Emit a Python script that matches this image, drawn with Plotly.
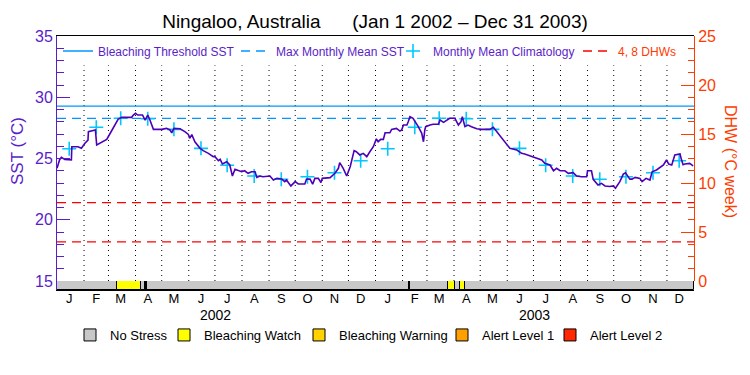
import pandas as pd
import plotly.graph_objects as go

# ---------------- data ----------------
period_start = "2002-01-01"
period_end = "2004-01-01"

# days since 2002-01-01 and SST (°C)
sst_day_offset = [0, 3, 5, 9, 16.5, 17, 24, 28, 32, 35.5, 36, 41.5, 44, 45.5, 51, 57, 61, 66.5, 70, 74,
                  85.5, 87.5, 90, 92.5, 98, 101, 104, 106.5, 110.5, 120, 125.5, 129.5, 131.5, 134, 141,
                  146.5, 150.5, 152, 154.5, 158, 164, 167.5, 173.5, 179, 181, 185, 187, 189.5, 194.5, 198,
                  201, 204, 207.5, 211.5, 215, 219, 223, 227, 229, 232.5, 236, 240, 244, 248, 252, 257.5,
                  261, 263, 268, 273, 276.5, 284, 286, 290, 293, 295.5, 299.5, 302.5, 304, 313, 318.5,
                  322.5, 324, 328, 332, 336, 340.5, 343, 347, 351, 355, 358.5, 362.5, 366, 368, 371, 374,
                  376, 381.5, 383.5, 389, 393, 395, 397, 401, 402.5, 404.5, 408, 412, 414, 418, 420, 421.5,
                  422.5, 427.5, 431, 437, 439, 443, 446.5, 450, 456, 460, 463, 464.5, 467.5, 471, 475, 481,
                  486.5, 496, 500, 504, 509.5, 515.5, 519, 527, 532.5, 536, 539, 544, 548, 555.5, 559, 565,
                  569, 572.5, 576.5, 582, 586, 591.5, 595.5, 601, 607, 608, 612.5, 614.5, 620, 624, 628,
                  633.5, 637.5, 640, 645, 649, 651.5, 656.5, 659, 662.5, 668, 670.5, 675, 679.5, 682, 687,
                  695, 698.5, 701, 704.5, 708, 714, 715.5, 717.5, 719.5, 725, 729]
sst_values = [24.2, 24.9, 25.1, 24.93, 24.88, 25.96, 25.96, 25.83, 26.24, 26.5, 27.19, 27.27, 27.33, 26.1,
              26.29, 26.56, 27.06, 27.8, 28.2, 28.36, 28.36, 28.55, 28.69, 28.55, 28.55, 28.14, 28.55,
              28.14, 27.38, 27.38, 27.46, 27.33, 27.1, 27.46, 27.43, 27.19, 26.97, 26.65, 26.95, 26.37,
              25.83, 25.64, 25.42, 25.15, 25.15, 24.82, 24.93, 24.55, 24.74, 24.47, 23.57, 24.12, 24.0,
              23.92, 24.0, 23.79, 23.92, 23.92, 23.46, 23.57, 23.51, 23.57, 23.57, 23.24, 23.38, 23.32,
              23.11, 23.24, 22.76, 23.11, 22.92, 22.92, 23.32, 23.32, 22.9, 23.38, 23.38, 23.03, 23.38,
              23.44, 23.79, 24.2, 24.66, 24.2, 23.57, 24.33, 25.64, 25.55, 25.29, 25.42, 25.15, 25.55,
              25.96, 26.6, 26.37, 26.56, 26.56, 27.1, 27.1, 27.38, 27.46, 27.24, 27.33, 27.73, 27.73,
              28.0, 28.41, 28.28, 27.87, 27.6, 27.06, 26.37, 27.33, 27.6, 27.73, 27.8, 27.8, 28.14, 27.95,
              28.09, 28.28, 28.28, 27.73, 28.0, 28.41, 27.6, 27.73, 27.6, 27.43, 27.38, 27.38, 27.55,
              27.19, 26.78, 26.24, 25.83, 25.69, 25.42, 25.37, 25.29, 25.2, 25.1, 24.88, 24.61, 24.47,
              24.0, 24.2, 24.0, 24.0, 23.79, 23.84, 23.57, 23.51, 23.51, 24.0, 24.0, 23.3, 22.84, 22.97,
              22.76, 22.71, 22.76, 22.57, 23.11, 23.73, 23.84, 23.32, 23.32, 23.46, 23.38, 23.11, 23.38,
              23.24, 23.92, 24.06, 24.47, 24.88, 24.55, 24.47, 25.29, 25.37, 24.93, 24.5, 24.55, 24.6,
              24.39]

clim_years = [2002, 2003]
clim_month_values = [25.80, 27.55, 28.28, 28.25, 27.38, 25.83, 24.45, 23.57, 23.30, 23.51, 23.84, 24.82]

mmm_sst = 28.28
bleaching_threshold_sst = 29.28
dhw_levels = [4, 8]

status_starts = ["2002-01-01", "2002-03-11", "2002-04-07", "2002-04-12", "2002-04-14", "2003-02-08",
                 "2003-02-10", "2003-03-25", "2003-04-02", "2003-04-08", "2003-04-13"]
status_ends = ["2002-03-11", "2002-04-07", "2002-04-12", "2002-04-14", "2003-02-08", "2003-02-10",
               "2003-03-25", "2003-04-02", "2003-04-08", "2003-04-13", "2004-01-01"]
status_levels = ["No Stress", "Bleaching Watch", "No Stress", "No Data", "No Stress", "No Data",
                 "No Stress", "Bleaching Watch", "No Stress", "Bleaching Watch", "No Stress"]
status_categories = ["No Stress", "Bleaching Watch", "Bleaching Warning", "Alert Level 1", "Alert Level 2"]

month_letters = ["J", "F", "M", "A", "M", "J", "J", "A", "S", "O", "N", "D"]
year_labels = ["2002", "2003"]

# ---------------- styles / layout ----------------
PURPLE = "#5a1ec8"
LINE_PURPLE = "#4c00b8"
ORANGE_RED = "#ff3c00"
BLUE = "#0096ff"
CYAN = "#00c8ff"
RED = "#ff0000"
FONT = "Liberation Sans"
status_colors = {"No Stress": "#c8c8c8", "Bleaching Watch": "#ffff00", "Bleaching Warning": "#ffd200",
                 "Alert Level 1": "#ffa000", "Alert Level 2": "#ff2800", "No Data": "#000000"}

W, H = 750, 375
ML, MR, MT, MB = 57, 56, 36, 85
PW, PH = W - ML - MR, H - MT - MB
BAR_FRAC = 9 / PH
TEXT_OFF = 40  # legend text offset from legend x (px)


def px_x(px):
    return (px - ML) / PW


def px_y(py):
    return (H - MB - py) / PH


# legend placement: text start pixel positions
top_legend_text_x = [98, 276, 433, 618]
bottom_legend_text_x = [110, 204, 339, 482, 590]

t0 = pd.Timestamp(period_start)
t1 = pd.Timestamp(period_end)
sst_dates = [t0 + pd.to_timedelta(d, unit="D") for d in sst_day_offset]

clim_dates, clim_vals = [], []
for yr in clim_years:
    for m, v in enumerate(clim_month_values, start=1):
        clim_dates.append(pd.Timestamp(year=yr, month=m, day=15))
        clim_vals.append(v)

fig = go.Figure()
top_names = ["legend", "legend7", "legend8", "legend9"]
bot_names = ["legend2", "legend3", "legend4", "legend5", "legend6"]

fig.add_trace(go.Scatter(x=[t0, t1], y=[bleaching_threshold_sst] * 2, mode="lines",
                         line=dict(color=BLUE, width=1.3), name="Bleaching Threshold SST",
                         legend=top_names[0]))
fig.add_trace(go.Scatter(x=[t0, t1], y=[mmm_sst] * 2, mode="lines",
                         line=dict(color=BLUE, width=1.3, dash="9px,6px"), name="Max Monthly Mean SST",
                         legend=top_names[1]))
fig.add_trace(go.Scatter(x=clim_dates, y=clim_vals, mode="markers",
                         marker=dict(symbol="cross-thin", size=10, line=dict(color=CYAN, width=1.6)),
                         name="Monthly Mean Climatology", legend=top_names[2]))
dx, dy = [], []
for lv in dhw_levels:
    dx += [t0, t1, None]
    dy += [lv, lv, None]
fig.add_trace(go.Scatter(x=dx, y=dy, yaxis="y2", mode="lines",
                         line=dict(color=RED, width=1.3, dash="9px,6px"),
                         name=f"<span style='color:{ORANGE_RED}'>4, 8 DHWs</span>", legend=top_names[3]))
fig.add_trace(go.Scatter(x=sst_dates, y=sst_values, mode="lines",
                         line=dict(color=LINE_PURPLE, width=1.6), showlegend=False, name="SST"))

# status bar
for i, cat in enumerate(status_categories + ["No Data"]):
    xs, ws = [], []
    for s, e, lv in zip(status_starts, status_ends, status_levels):
        if lv == cat:
            s_, e_ = pd.Timestamp(s), pd.Timestamp(e)
            xs.append(s_ + (e_ - s_) / 2)
            ws.append((e_ - s_).total_seconds() * 1000)
    if not xs:
        xs, ws, ys = [None], None, [None]
    else:
        ys = [1] * len(xs)
    fig.add_trace(go.Bar(x=xs, y=ys, width=ws, base=0, yaxis="y3",
                         marker=dict(color=status_colors[cat], line=dict(color="black", width=1)),
                         name=cat, legend=bot_names[i] if i < len(bot_names) else "legend2",
                         showlegend=(cat != "No Data")))

# month dotted lines
month_bounds = pd.date_range(t0, t1, freq="MS")[1:-1]
for mb in month_bounds:
    fig.add_shape(type="line", xref="x", yref="y", x0=mb, x1=mb, y0=15, y1=32.6,
                  line=dict(color="black", width=1, dash="1px,4px"), layer="below")

mid_months = pd.date_range(t0, t1, freq="MS")[:-1] + pd.Timedelta(days=14)
tick_text = [month_letters[d.month - 1] for d in mid_months]

for yl in year_labels:
    fig.add_annotation(x=pd.Timestamp(f"{yl}-07-02"), xref="x", y=px_y(315), yref="paper", text=yl,
                       xanchor="center", yanchor="middle", showarrow=False,
                       font=dict(family=FONT, size=14, color="black"))

fig.add_annotation(x=px_x(17), xref="paper", y=px_y(151), yref="paper", text="SST (°C)", textangle=-90,
                   xanchor="center", yanchor="middle", showarrow=False,
                   font=dict(family=FONT, size=17, color=PURPLE))
fig.add_annotation(x=px_x(731), xref="paper", y=px_y(161), yref="paper", text="DHW (°C week)",
                   textangle=90, xanchor="center", yanchor="middle", showarrow=False,
                   font=dict(family=FONT, size=16, color=ORANGE_RED))

legends = {}
for name, tx in zip(top_names, top_legend_text_x):
    legends[name] = dict(orientation="h", x=px_x(tx - TEXT_OFF), xanchor="left", y=px_y(51),
                         yanchor="middle", bgcolor="rgba(0,0,0,0)",
                         font=dict(family=FONT, size=12, color=PURPLE), itemwidth=30)
for name, tx in zip(bot_names, bottom_legend_text_x):
    legends[name] = dict(orientation="h", x=px_x(tx - TEXT_OFF), xanchor="left", y=px_y(335),
                         yanchor="middle", bgcolor="rgba(0,0,0,0)",
                         font=dict(family=FONT, size=13, color="black"), itemwidth=30)

fig.update_layout(
    width=W, height=H,
    margin=dict(l=ML, r=MR, t=MT, b=MB, autoexpand=False),
    paper_bgcolor="white", plot_bgcolor="rgba(0,0,0,0)",
    barmode="overlay", bargap=0,
    title=dict(text="Ningaloo, Australia" + "\u00a0" * 6 + "(Jan 1 2002 \u2013 Dec 31 2003)",
               x=0.5, xanchor="center", y=1 - 21 / H, yanchor="middle",
               font=dict(family=FONT, size=19, color="black")),
    font=dict(family=FONT),
    xaxis=dict(range=[t0, t1], tickvals=list(mid_months), ticktext=tick_text, ticks="", ticklen=0,
               ticklabelstandoff=-4,
               showgrid=False, zeroline=False, showline=True, linecolor="black", linewidth=1,
               mirror=True, tickfont=dict(family=FONT, size=13, color="black"), anchor="y"),
    yaxis=dict(range=[15 - BAR_FRAC * 20 / (1 - BAR_FRAC), 35], domain=[0, 1], dtick=5, tick0=0,
               ticks="inside", ticklen=13, tickcolor=PURPLE, tickwidth=1,
               minor=dict(ticks="inside", ticklen=7, dtick=1, tickcolor=PURPLE, showgrid=False),
               showline=True, linecolor=PURPLE, linewidth=1, showgrid=False, zeroline=False,
               tickfont=dict(family=FONT, size=16, color=PURPLE), anchor="x"),
    yaxis2=dict(range=[0, 25], domain=[BAR_FRAC, 1], side="right", anchor="x", dtick=5, tick0=0,
                ticks="inside", ticklen=13, tickcolor=ORANGE_RED, tickwidth=1,
                minor=dict(ticks="inside", ticklen=6, dtick=1.25, tickcolor=ORANGE_RED, showgrid=False),
                showline=True, linecolor=ORANGE_RED, linewidth=1, showgrid=False, zeroline=False,
                tickfont=dict(family=FONT, size=16, color=ORANGE_RED)),
    yaxis3=dict(range=[0, 1], domain=[0, BAR_FRAC], visible=False, anchor="x", fixedrange=True),
    showlegend=True,
    **legends,
)

fig.write_html("out.html", config={"displayModeBar": False},
               post_script="document.body.style.margin='0';")
